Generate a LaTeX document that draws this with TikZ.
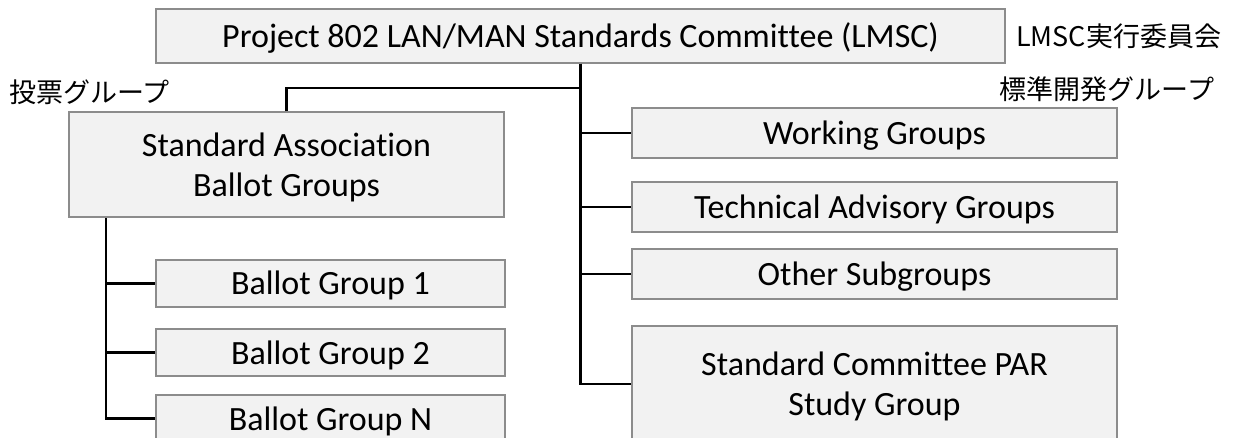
\documentclass[tikz,border=0pt]{standalone}
\usepackage{fontspec}
\setmainfont[Ligatures=NoCommon]{Carlito}
\newfontfamily\jpfont{Noto Sans CJK JP}
\usetikzlibrary{positioning}

\definecolor{boxfill}{HTML}{F2F2F2}
\definecolor{boxline}{HTML}{8C8C8C}

\begin{document}
\begin{tikzpicture}[x=1pt,y=-1pt,
	unit/.style={draw=boxline,fill=boxfill,line width=2pt,inner sep=0pt,align=center,
		text depth=0pt,font=\fontsize{34}{40}\selectfont},
	oneline/.style={unit,text height=23pt},
	jplabel/.style={inner sep=0pt,font=\jpfont\fontsize{27}{32}\selectfont},
	link/.style={draw=black,line width=2.6pt}]
	\useasboundingbox (0,0) rectangle (1237,438);
	\clip (0,0) rectangle (1237,438);
	% top committee
	\node[oneline,minimum width=849pt,minimum height=54pt] (lmsc) at (580.5,36) {Project 802 LAN/MAN Standards Committee (LMSC)};
	\node[jplabel,right=10pt of lmsc] (lmsclbl) {LMSC実行委員会};
	% ballot side
	\node[unit,minimum width=435pt,minimum height=105pt] (sa) at (286.5,165) {Standard Association\\Ballot Groups};
	\node[jplabel] (salbl) at (89.5,92) {投票グループ};
	\node[oneline,minimum width=349pt,minimum height=47pt] (bg1) at (330.5,283.5) {Ballot Group 1};
	\node[oneline,minimum width=349pt,minimum height=47pt,below=20pt of bg1] (bg2) {Ballot Group 2};
	\node[oneline,minimum width=349pt,minimum height=47pt,below=17pt of bg2] (bgN) {Ballot Group N};
	% development side
	\node[jplabel] (devlbl) at (1107,89) {標準開発グループ};
	\node[oneline,minimum width=485pt,minimum height=50pt] (wg) at (874.5,133) {Working Groups};
	\node[oneline,minimum width=485pt,minimum height=50pt,below=22pt of wg] (tag) {Technical Advisory Groups};
	\node[oneline,minimum width=485pt,minimum height=50pt,below=15pt of tag] (osg) {Other Subgroups};
	\node[unit,minimum width=485pt,minimum height=116pt,below=25pt of osg] (scpar) {Standard Committee PAR\\Study Group};
	% connectors
	\coordinate (split) at ([yshift=-24pt]lmsc.south);
	\coordinate (sajoint) at ([xshift=38pt]sa.south west);
	\path[link] (sa.north) |- (split);
	\foreach \n in {wg,tag,osg,scpar}
		\path[link] (lmsc.south) |- (\n.west);
	\foreach \n in {bg1,bg2,bgN}
		\path[link] (sajoint) |- (\n.west);
\end{tikzpicture}
\end{document}
